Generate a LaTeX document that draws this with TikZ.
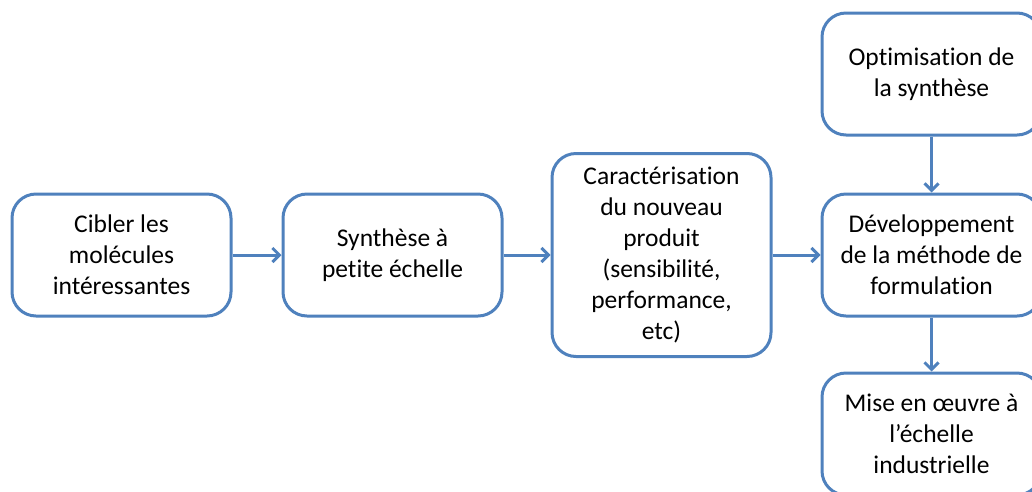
\documentclass[tikz,border=0pt]{standalone}
\usepackage{fontspec}
\setmainfont[Ligatures=NoCommon]{Carlito}
\usetikzlibrary{arrows.meta,positioning}

\definecolor{boxblue}{HTML}{4F81BD}

\begin{document}
\begin{tikzpicture}[->,>={Straight Barb[length=7pt,width=14pt]},auto,
                    node distance=56pt and 48pt,line width=3pt,draw=boxblue]

  \tikzstyle{box}=[rectangle,draw=boxblue,fill=white,rounded corners=24pt,
                   align=center,minimum width=219pt,minimum height=122pt,
                   inner sep=4pt,font=\fontsize{25.5}{31}\selectfont]

  \useasboundingbox (0pt,0pt) rectangle (1032pt,-491pt);
  \clip (0pt,0pt) rectangle (1032pt,-491pt);

  \node[box] (CIB) at (121.5pt,-255pt) {Cibler les \\ molécules \\ intéressantes};
  \node[box] (SYN) [right=49pt of CIB] {Synthèse à \\ petite échelle};
  \node[box] (CAR) [right=47pt of SYN,minimum height=203pt]
             {Caractérisation \\ du nouveau \\ produit \\ (sensibilité, \\ performance, \\ etc)};
  \node[box] (DEV) [right=48pt of CAR] {Développement \\ de la méthode de \\ formulation};
  \node[box] (OPT) [above=56pt of DEV] {Optimisation de \\ la synthèse};
  \node[box] (MEO) [below=54pt of DEV] {Mise en œuvre à \\ l’échelle \\ industrielle};

  \path[draw=boxblue]
  (CIB) edge (SYN)
  (SYN) edge (CAR)
  (CAR) edge (DEV)
  (OPT) edge (DEV)
  (DEV) edge (MEO)
  ;
\end{tikzpicture}
\end{document}
